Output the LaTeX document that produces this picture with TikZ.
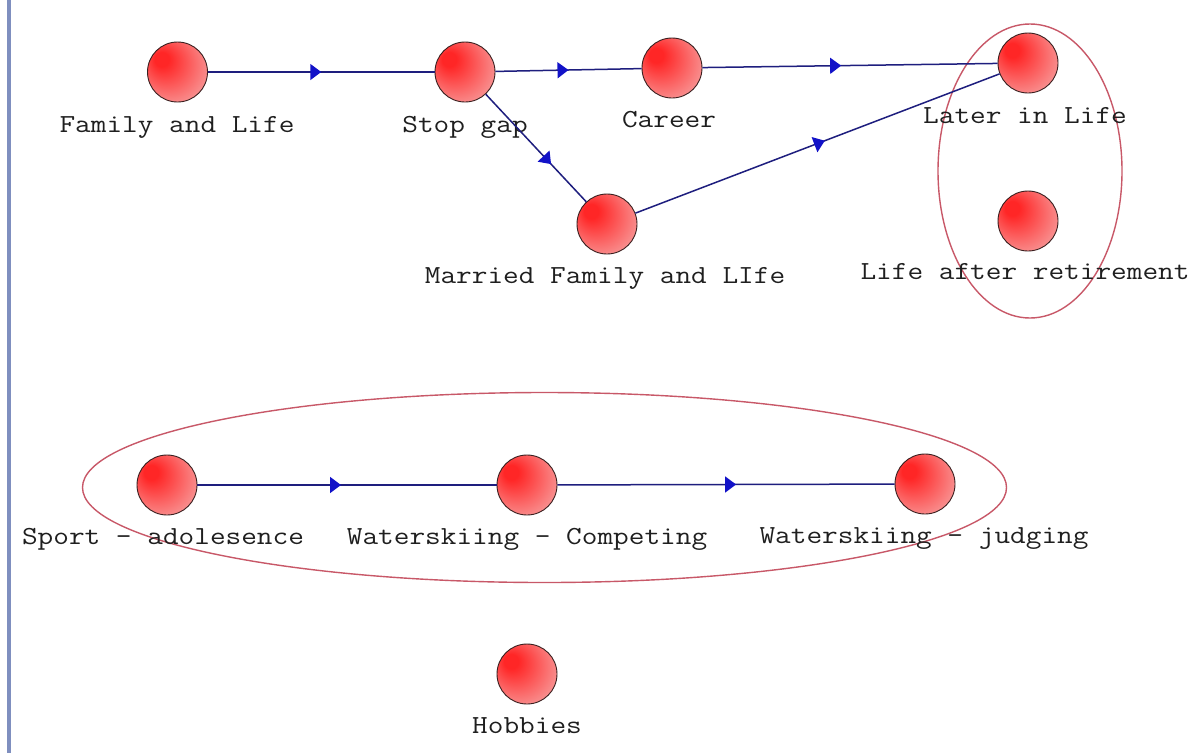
\documentclass[tikz,border=0pt]{standalone}
\usepackage{graphicx}
\usetikzlibrary{arrows.meta,decorations.markings}
\definecolor{ballred}{HTML}{FF2626}
\definecolor{ballmid}{HTML}{F98888}
\definecolor{ballpink}{HTML}{F5C8C8}
\definecolor{edgecol}{HTML}{1E1E7E}
\definecolor{tipcol}{HTML}{1212C8}
\definecolor{grpcol}{HTML}{C85868}
\definecolor{bordercol}{HTML}{7F8FBF}
\definecolor{ringcol}{HTML}{3A2020}
\pgfdeclareradialshading{myball}{\pgfpoint{-15bp}{12bp}}{color(0bp)=(ballred); color(6bp)=(ballred); color(30bp)=(ballmid); color(50bp)=(ballpink)}
\newcommand\lbl[1]{\scalebox{1.17}[1]{#1}}
\tikzset{
  dotnode/.style={circle, minimum size=60pt, inner sep=0pt, draw=ringcol, line width=0.9pt, shading=myball},
  lab/.style={font=\ttfamily\fontsize{26}{30}\selectfont, text=black!88, inner sep=0pt, anchor=base},
  conn/.style={draw=edgecol, line width=1.5pt, postaction={decorate},
    decoration={markings, mark=at position #1 with {\arrow{Triangle[length=11pt,width=16pt,color=tipcol]}}}},
  conn/.default=0.5,
  grp/.style={draw=grpcol, line width=1.4pt}
}
\begin{document}
\begin{tikzpicture}[x=1pt,y=-1pt]
\useasboundingbox (0,0) rectangle (1201,753);
\fill[white] (0,0) rectangle (1201,753);
\draw[bordercol, line width=3.5pt] (9,0) -- (9,753);
% group ellipses
\draw[grp] (1030,171) ellipse [x radius=92pt, y radius=147pt];
\draw[grp] (544.5,487.5) ellipse [x radius=462pt, y radius=95pt];
% nodes
\node[dotnode] (fam) at (177.5,72) {};
\node[dotnode] (stop) at (465,72) {};
\node[dotnode] (car) at (672,68) {};
\node[dotnode] (later) at (1028,63) {};
\node[dotnode] (mar) at (607,224) {};
\node[dotnode] (ret) at (1028,221) {};
\node[dotnode] (spo) at (167,485) {};
\node[dotnode] (comp) at (527,485) {};
\node[dotnode] (judg) at (925,484) {};
\node[dotnode] (hob) at (527,674) {};
% labels
\node[lab] (famL) at (177,132) {\lbl{Family and Life}};
\node[lab] (stopL) at (465,132) {\lbl{Stop gap}};
\node[lab] (carL) at (669,127) {\lbl{Career}};
\node[lab] (laterL) at (1025,123) {\lbl{Later in Life}};
\node[lab] (marL) at (605,283) {\lbl{Married Family and LIfe}};
\node[lab] (retL) at (1025,279) {\lbl{Life after retirement}};
\node[lab] (spoL) at (163,544) {\lbl{Sport - adolesence}};
\node[lab] (compL) at (527,544) {\lbl{Waterskiing - Competing}};
\node[lab] (judgL) at (924,543) {\lbl{Waterskiing - judging}};
\node[lab] (hobL) at (527,733) {\lbl{Hobbies}};
% connectors
\draw[conn] (fam) -- (stop);
\draw[conn] (stop) -- (car);
\draw[conn=0.47] (car) -- (later);
\draw[conn=0.65] (stop) -- (mar);
\draw[conn=0.52] (mar) -- (later);
\draw[conn=0.48] (spo) -- (comp);
\draw[conn=0.53] (comp) -- (judg);
\end{tikzpicture}
\end{document}
